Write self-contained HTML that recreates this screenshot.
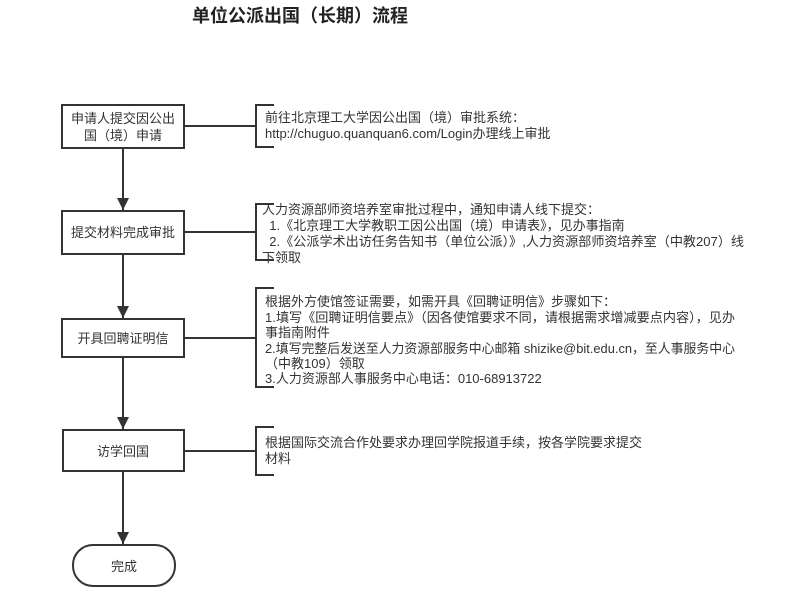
<!DOCTYPE html>
<html><head><meta charset="utf-8"><style>
html,body{margin:0;padding:0;background:#fff;width:799px;height:594px;overflow:hidden}
text{font-family:"Liberation Sans","Noto Sans CJK SC",sans-serif;fill:#333}
</style></head><body>
<svg width="799" height="594" viewBox="0 0 799 594" xmlns="http://www.w3.org/2000/svg">
<defs><marker id="a" markerWidth="12" markerHeight="12" refX="12" refY="6" orient="auto" markerUnits="userSpaceOnUse"><path d="M0,0 L12,6 L0,12 z" fill="#333"/></marker></defs>
<text x="300" y="22" font-size="18" font-weight="bold" text-anchor="middle" style="fill:#222">单位公派出国（长期）流程</text>
<g stroke="#333" stroke-width="2" fill="#fff">
<rect x="62" y="105" width="122" height="43"/>
<rect x="62" y="211" width="122" height="43"/>
<rect x="62" y="319" width="122" height="38"/>
<rect x="63" y="430" width="121" height="41"/>
<rect x="73" y="545" width="102" height="41" rx="20"/>
</g>
<g stroke="#333" stroke-width="2" fill="none">
<line x1="123" y1="148" x2="123" y2="210" marker-end="url(#a)"/>
<line x1="123" y1="254" x2="123" y2="318" marker-end="url(#a)"/>
<line x1="123" y1="357" x2="123" y2="429" marker-end="url(#a)"/>
<line x1="123" y1="471" x2="123" y2="544" marker-end="url(#a)"/>
<line x1="184" y1="126" x2="256" y2="126"/>
<line x1="184" y1="232" x2="256" y2="232"/>
<line x1="184" y1="338" x2="256" y2="338"/>
<line x1="184" y1="451" x2="256" y2="451"/>
<path d="M274,105 H256 V147 H274"/>
<path d="M274,204 H256 V260 H274"/>
<path d="M274,288 H256 V387 H274"/>
<path d="M274,427 H256 V475 H274"/>
</g>
<g font-size="13" text-anchor="middle">
<text x="123" y="123">申请人提交因公出</text>
<text x="123" y="140">国（境）申请</text>
<text x="123" y="237">提交材料完成审批</text>
<text x="123" y="343">开具回聘证明信</text>
<text x="123" y="456">访学回国</text>
<text x="124" y="571">完成</text>
</g>
<g font-size="13">
<text x="265" y="122">前往北京理工大学因公出国（境）审批系统：</text>
<text x="265" y="138">http://chuguo.quanquan6.com/Login办理线上审批</text>
<text x="262" y="214">人力资源部师资培养室审批过程中，通知申请人线下提交：</text>
<text x="262" y="230">&#160;&#160;1.《北京理工大学教职工因公出国（境）申请表》，见办事指南</text>
<text x="262" y="246" textLength="482" lengthAdjust="spacingAndGlyphs">&#160;&#160;2.《公派学术出访任务告知书（单位公派）》,人力资源部师资培养室（中教207）线</text>
<text x="262" y="262">下领取</text>
<text x="265" y="306">根据外方使馆签证需要，如需开具《回聘证明信》步骤如下：</text>
<text x="265" y="322" textLength="470" lengthAdjust="spacingAndGlyphs">1.填写《回聘证明信要点》（因各使馆要求不同，请根据需求增减要点内容），见办</text>
<text x="265" y="337">事指南附件</text>
<text x="265" y="353" textLength="470" lengthAdjust="spacingAndGlyphs">2.填写完整后发送至人力资源部服务中心邮箱 shizike@bit.edu.cn，至人事服务中心</text>
<text x="265" y="368">（中教109）领取</text>
<text x="265" y="383">3.人力资源部人事服务中心电话：010-68913722</text>
<text x="265" y="447">根据国际交流合作处要求办理回学院报道手续，按各学院要求提交</text>
<text x="265" y="463">材料</text>
</g>
</svg>
</body></html>
